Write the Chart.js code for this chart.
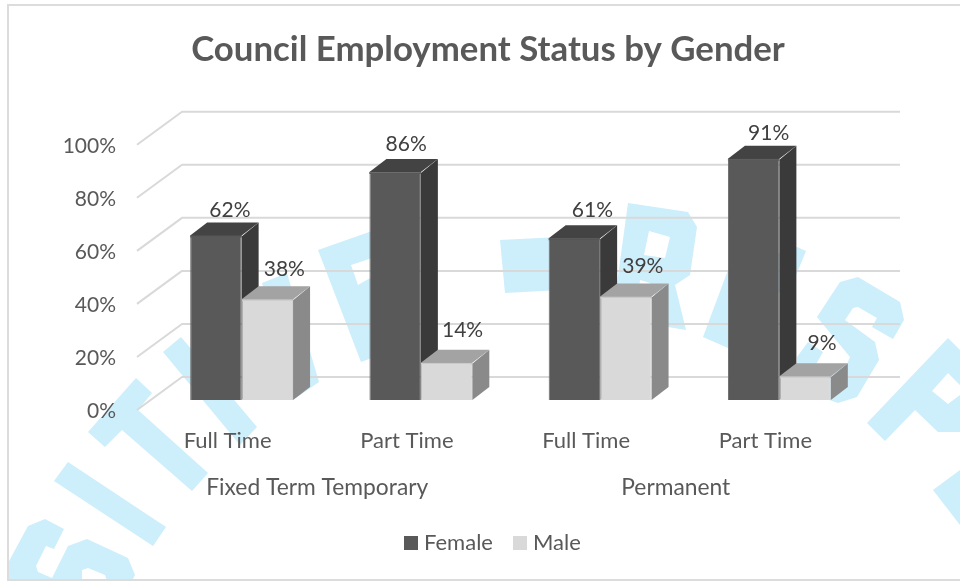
<!DOCTYPE html>
<html><head><meta charset="utf-8">
<style>html,body{margin:0;padding:0;background:#fff}canvas{display:block}</style>
<script src="https://cdn.jsdelivr.net/npm/chart.js@4/dist/chart.umd.min.js"></script>
</head><body><canvas id="c" width="960" height="581"></canvas>
<script>
const titleText = "Council Employment Status by Gender";
const categories = ["Full Time", "Part Time", "Full Time", "Part Time"];
const groupLabels = ["Fixed Term Temporary", "Permanent"];
const femaleValues = [62, 86, 61, 91];
const maleValues = [38, 14, 39, 9];
const seriesNames = ["Female", "Male"];

const FONT = "Lato, Carlito, Calibri, sans-serif";
const faces = [
  {front:"#595959", edge:"#6c6c6c", side:"#3a3a3a", top:"#434343", lx:14, ly:-27, nudge:[[0,2],[-3,-1],[4,-1],[1,2]]},
  {front:"#d9d9d9", edge:"#cfcfcf", side:"#8a8a8a", top:"#a3a3a3", lx:17, ly:-32, nudge:[[0,2],[-1,-1],[0,2],[0,-1]]}
];
// decorative watermark outlines (not data); each entry: outer ring, optional hole
const watermark = [
 [[[8,563],[28,526],[45,519],[64,529],[54,549],[46,546],[36,566],[38,572],[52,578],[68,546],[87,539],[128,558],[135,575],[132,581],[8,581]],[[82,570],[88,568],[105,575],[107,581],[82,581]]],
 [[[68,462],[166,527],[153,546],[54,481]]],
 [[[88,432],[136,378],[152,393],[138,410],[208,473],[192,491],[122,430],[105,447]]],
 [[[163,352],[181,337],[257,427],[240,445]]],
 [[[262,283],[287,273],[319,382],[296,398]]],
 [[[318,250],[372,231],[372,358],[361,362]],[[351,265],[372,258],[372,277],[358,285]]],
 [[[500,240],[560,237],[560,290],[505,293]]],
 [[[628,203],[688,212],[697,227],[690,275],[675,285],[686,330],[668,327],[650,283],[640,280],[636,320],[612,320]],[[649,231],[670,237],[665,258],[644,255]]],
 [[[703,337],[728,270],[797,247],[806,251],[797,273],[728,348]]],
 [[[797,357],[808,342],[823,352],[815,366],[797,366]]],
 [[[840,282],[858,277],[900,302],[904,320],[893,339],[872,327],[877,318],[858,307],[853,308],[845,320],[875,342],[879,360],[857,397],[838,403],[815,395],[815,366],[847,364],[850,357],[817,317]]],
 [[[948,338],[960,350],[960,432],[938,432],[915,410],[885,441],[867,423]],[[948,373],[960,385],[960,395],[948,404],[932,391]]],
 [[[960,470],[933,490],[960,525]]]
];

const poly = (ctx, pts) => { pts.forEach((p,i)=> i?ctx.lineTo(p[0],p[1]):ctx.moveTo(p[0],p[1])); ctx.closePath(); };

const scene = {
  id:"scene",
  beforeDraw(chart){
    const ctx = chart.ctx;
    ctx.save();
    ctx.fillStyle="#fff"; ctx.fillRect(0,0,960,581);
    ctx.beginPath(); ctx.rect(8,5,952,575); ctx.clip();
    ctx.fillStyle="#cdeefb";
    watermark.forEach(shape=>{
      ctx.beginPath(); shape.forEach(r=>poly(ctx,r)); ctx.fill("evenodd");
    });
    ctx.restore();
    ctx.save();
    ctx.strokeStyle="#dcdcdc"; ctx.lineWidth=2;
    ctx.beginPath(); ctx.moveTo(960,5); ctx.lineTo(8,5); ctx.lineTo(8,580); ctx.lineTo(960,580); ctx.stroke();
    ctx.restore();
  },
  beforeDatasetsDraw(chart){
    const ctx = chart.ctx, y = chart.scales.y;
    ctx.save();
    ctx.strokeStyle="#d9d9d9"; ctx.lineWidth=2; ctx.lineJoin="round";
    y.ticks.forEach(t=>{
      const p = y.getPixelForValue(t.value);
      ctx.beginPath(); ctx.moveTo(137,p+10); ctx.lineTo(182,p-23); ctx.lineTo(900,p-23); ctx.stroke();
    });
    const dx=17, dy=-13;
    [0,1].forEach(d=>{
      const f = faces[d];
      chart.getDatasetMeta(d).data.forEach(b=>{
        const l=b.x-b.width/2, r=b.x+b.width/2, t=b.y, bt=b.base;
        ctx.fillStyle=f.side; ctx.beginPath(); poly(ctx,[[r,t+1],[r+dx,t+dy],[r+dx,bt+dy],[r,bt]]); ctx.fill();
        ctx.fillStyle=f.top; ctx.beginPath(); poly(ctx,[[l,t+2],[l,t],[l+dx,t+dy],[r+dx,t+dy],[r,t],[r,t+2]]); ctx.fill();
      });
    });
    ctx.restore();
  },
  afterDatasetsDraw(chart){
    const ctx = chart.ctx;
    ctx.save();
    ctx.font="21px "+FONT; ctx.fillStyle="#404040"; ctx.textAlign="center"; ctx.textBaseline="middle";
    [0,1].forEach(d=>{
      const vals = chart.data.datasets[d].data, f = faces[d];
      chart.getDatasetMeta(d).data.forEach((b,i)=>{
        ctx.fillText(vals[i]+"%", b.x+f.lx+f.nudge[i][0], b.y+f.ly+f.nudge[i][1]);
      });
    });
    // legend
    ctx.font="22px "+FONT; ctx.textAlign="left";
    const lx=[404,513];
    chart.data.datasets.forEach((ds,i)=>{
      ctx.fillStyle=faces[i].front; ctx.fillRect(lx[i],536,14,14);
      ctx.fillStyle="#595959"; ctx.fillText(ds.label,lx[i]+20,543);
    });
    ctx.restore();
  }
};

new Chart(document.getElementById("c"),{
  type:"bar",
  data:{labels:categories,datasets:[
    {label:seriesNames[0],data:femaleValues,backgroundColor:faces[0].front,borderColor:faces[0].edge,borderWidth:1,xAxisID:"x",yAxisID:"y"},
    {label:seriesNames[1],data:maleValues,backgroundColor:faces[1].front,borderColor:faces[1].edge,borderWidth:1,xAxisID:"x",yAxisID:"y"}
  ]},
  plugins:[scene],
  options:{
    responsive:false,animation:false,
    layout:{padding:{left:16,right:0,top:0,bottom:0}},
    datasets:{bar:{categoryPercentage:0.574,barPercentage:1}},
    plugins:{
      legend:{display:false},tooltip:{enabled:false},
      title:{display:true,text:titleText,color:"#595959",align:"center",
        font:{family:FONT,size:34.8,weight:"bold"},padding:{top:29,bottom:64}}
    },
    scales:{
      y:{min:0,max:100,position:"left",
        ticks:{stepSize:20,callback:v=>v+"%",color:"#595959",padding:36,labelOffset:11,font:{family:FONT,size:21}},
        grid:{display:false,drawTicks:false},border:{display:false},
        afterFit:s=>{s.width=136;}},
      yR:{position:"right",display:true,ticks:{display:false},grid:{display:false,drawTicks:false},border:{display:false},
        afterFit:s=>{s.width=91;}},
      x:{position:"bottom",weight:0,
        ticks:{color:"#595959",padding:28,labelOffset:-14,maxRotation:0,autoSkip:false,font:{family:FONT,size:22}},
        grid:{display:false,drawTicks:false},border:{display:false},
        afterFit:s=>{s.height=62;}},
      x2:{type:"category",labels:groupLabels,position:"bottom",weight:1,
        ticks:{color:"#595959",padding:12,labelOffset:-14,maxRotation:0,autoSkip:false,font:{family:FONT,size:22.8}},
        grid:{display:false,drawTicks:false},border:{display:false},
        afterFit:s=>{s.height=119;}}
    }
  }
});
</script></body></html>
